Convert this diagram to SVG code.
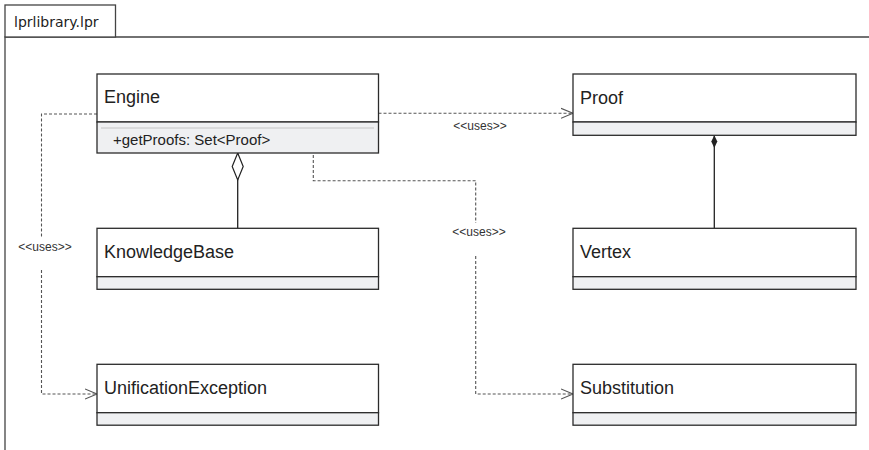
<svg xmlns="http://www.w3.org/2000/svg" width="869" height="450" viewBox="0 0 869 450">
  <style>
    .frame { fill: none; stroke: #444; stroke-width: 1.3; }
    .tab { fill: #fff; stroke: #444; stroke-width: 1.3; }
    .tabtxt { font-family: "DejaVu Sans", sans-serif; font-size: 14px; fill: #222; }
    .name { fill: #fff; stroke: #2b2b2b; stroke-width: 1.3; }
    .comp { fill: #eff0f2; stroke: #2b2b2b; stroke-width: 1.3; }
    .cls { font-family: "Liberation Sans", Arial, sans-serif; font-size: 18px; fill: #222; }
    .op { font-family: "Liberation Sans", Arial, sans-serif; font-size: 15px; fill: #222; }
    .sep { stroke: #c4c4c4; stroke-width: 1; }
    .dep { fill: none; stroke: #555; stroke-width: 1.1; stroke-dasharray: 3 2; marker-end: url(#open); }
    .assoc { fill: none; stroke: #222; stroke-width: 1.3; }
    .lbl { font-family: "Liberation Sans", Arial, sans-serif; font-size: 12px; fill: #333; text-anchor: middle; }
  </style>
  <defs>
    <marker id="open" markerUnits="userSpaceOnUse" markerWidth="14" markerHeight="12" viewBox="0 -6 14 12" refX="12" refY="0" orient="auto">
      <path d="M0,-5 L12,0 L0,5" fill="none" stroke="#555" stroke-width="1.1"/>
    </marker>
    <marker id="agg" markerUnits="userSpaceOnUse" markerWidth="30" markerHeight="14" viewBox="-1 -7 30 14" refX="0" refY="0" orient="auto">
      <path d="M0,0 L13.5,-5.5 L27,0 L13.5,5.5 Z" fill="#fff" stroke="#222" stroke-width="1.2"/>
    </marker>
    <marker id="comp" markerUnits="userSpaceOnUse" markerWidth="14" markerHeight="8" viewBox="0 -4 14 8" refX="0" refY="0" orient="auto">
      <path d="M0,0 L6.3,-3 L12.6,0 L6.3,3 Z" fill="#222"/>
    </marker>
  </defs>

  <!-- package frame -->
  <g id="package">
    <path class="frame" d="M5,450 V37 H869"/>
    <rect class="tab" x="5" y="5" width="110.5" height="32"/>
    <text class="tabtxt" x="14" y="27">lprlibrary.lpr</text>
  </g>

  <!-- relationships -->
  <g id="connectors">
    <path class="dep" d="M378.5,113.3 H573"/>
    <text class="lbl" x="480" y="129.5">&lt;&lt;uses&gt;&gt;</text>

    <path class="dep" d="M97,114 H41.5 V237 M41.5,270 V394 H97"/>
    <text class="lbl" x="45" y="251">&lt;&lt;uses&gt;&gt;</text>

    <path class="dep" d="M313.3,150 V180.7 H475.7 V223 M475.7,256 V394 H573"/>
    <text class="lbl" x="479" y="236">&lt;&lt;uses&gt;&gt;</text>

    <path class="assoc" d="M237.7,153 V228.3" marker-start="url(#agg)"/>
    <path class="assoc" d="M714.3,135.3 V228.3" marker-start="url(#comp)"/>
  </g>

  <!-- classes -->
  <g id="Engine">
    <rect class="name" x="97" y="74" width="281.5" height="48"/>
    <rect class="comp" x="97" y="122" width="281.5" height="31"/>
    <line class="sep" x1="101" y1="128" x2="374" y2="128"/>
    <text class="cls" x="104" y="103">Engine</text>
    <text class="op" x="113" y="145">+getProofs: Set&lt;Proof&gt;</text>
  </g>

  <g id="Proof">
    <rect class="name" x="573" y="74" width="283" height="48"/>
    <rect class="comp" x="573" y="122" width="283" height="13.3"/>
    <text class="cls" x="580" y="103.5">Proof</text>
  </g>

  <g id="KnowledgeBase">
    <rect class="name" x="97" y="228.3" width="281.5" height="48.4"/>
    <rect class="comp" x="97" y="276.7" width="281.5" height="12.6"/>
    <text class="cls" x="104" y="258">KnowledgeBase</text>
  </g>

  <g id="Vertex">
    <rect class="name" x="573" y="228.3" width="283" height="48.4"/>
    <rect class="comp" x="573" y="276.7" width="283" height="12.6"/>
    <text class="cls" x="580" y="258">Vertex</text>
  </g>

  <g id="UnificationException">
    <rect class="name" x="97" y="364.3" width="281.5" height="48.4"/>
    <rect class="comp" x="97" y="412.7" width="281.5" height="12.5"/>
    <text class="cls" x="104" y="394">UnificationException</text>
  </g>

  <g id="Substitution">
    <rect class="name" x="573" y="364.3" width="283" height="48.4"/>
    <rect class="comp" x="573" y="412.7" width="283" height="12.5"/>
    <text class="cls" x="580" y="394">Substitution</text>
  </g>
</svg>
